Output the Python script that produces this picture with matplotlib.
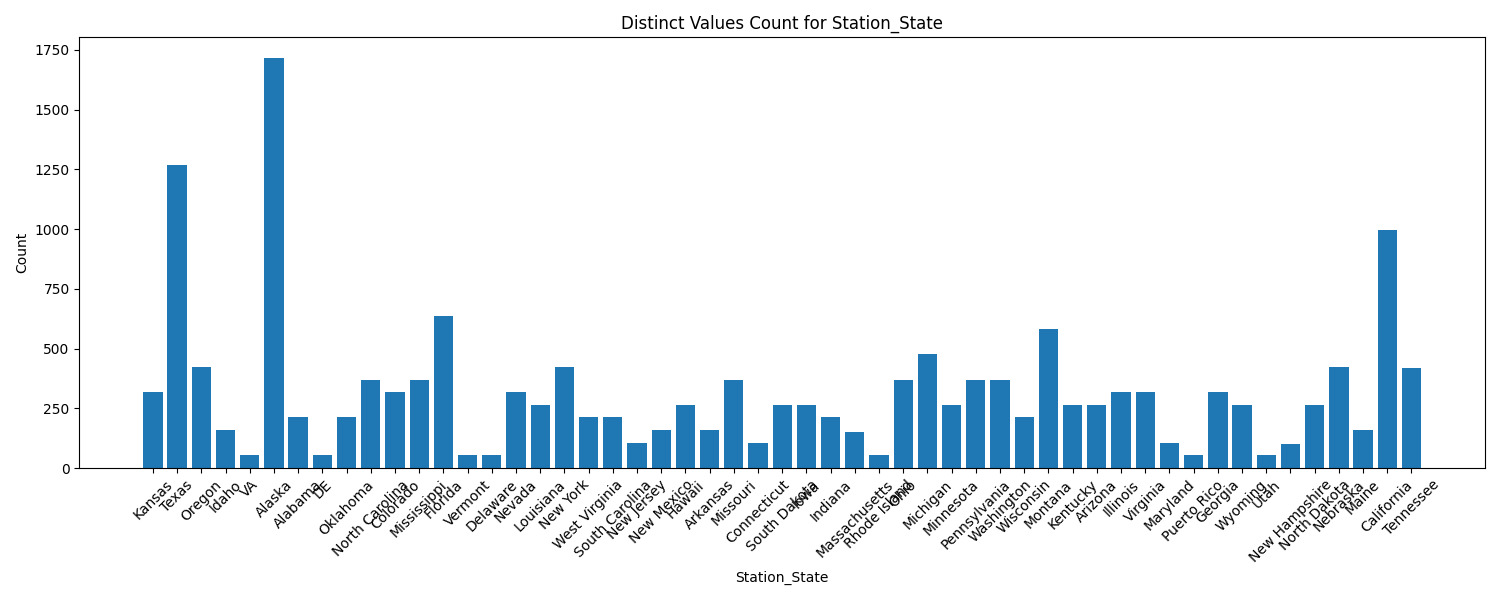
import matplotlib
matplotlib.use("Agg")
import matplotlib.pyplot as plt

states = ["Kansas", "Texas", "Oregon", "Idaho", "VA", "Alaska", "Alabama", "DE",
          "Oklahoma", "North Carolina", "Colorado", "Mississippi", "Florida", "Vermont",
          "Delaware", "Nevada", "Louisiana", "New York", "West Virginia", "South Carolina",
          "New Jersey", "New Mexico", "Hawaii", "Arkansas", "Missouri", "Connecticut",
          "South Dakota", "Iowa", "Indiana", "Massachusetts", "Rhode Island", "Ohio",
          "Michigan", "Minnesota", "Pennsylvania", "Washington", "Wisconsin", "Montana",
          "Kentucky", "Arizona", "Illinois", "Virginia", "Maryland", "Puerto Rico",
          "Georgia", "Wyoming", "Utah", "New Hampshire", "North Dakota", "Nebraska",
          "Maine", "California", "Tennessee"]
counts = [318, 1268, 422, 159, 53, 1717, 212, 53,
          212, 369, 318, 369, 636, 53,
          53, 318, 262, 422, 212, 212,
          105, 159, 264, 159, 369, 105,
          264, 264, 212, 151, 53, 369,
          476, 264, 369, 369, 212, 582,
          264, 264, 318, 318, 105, 53,
          318, 264, 53, 101, 264, 422,
          159, 997, 420]

fig, ax = plt.subplots(figsize=(15, 6), dpi=100)
ax.bar(states, counts, color="#1f77b4")
ax.set_title("Distinct Values Count for Station_State")
ax.set_xlabel("Station_State")
ax.set_ylabel("Count")
plt.xticks(rotation=45)
plt.tight_layout()
fig.savefig("out.png", dpi=100)
